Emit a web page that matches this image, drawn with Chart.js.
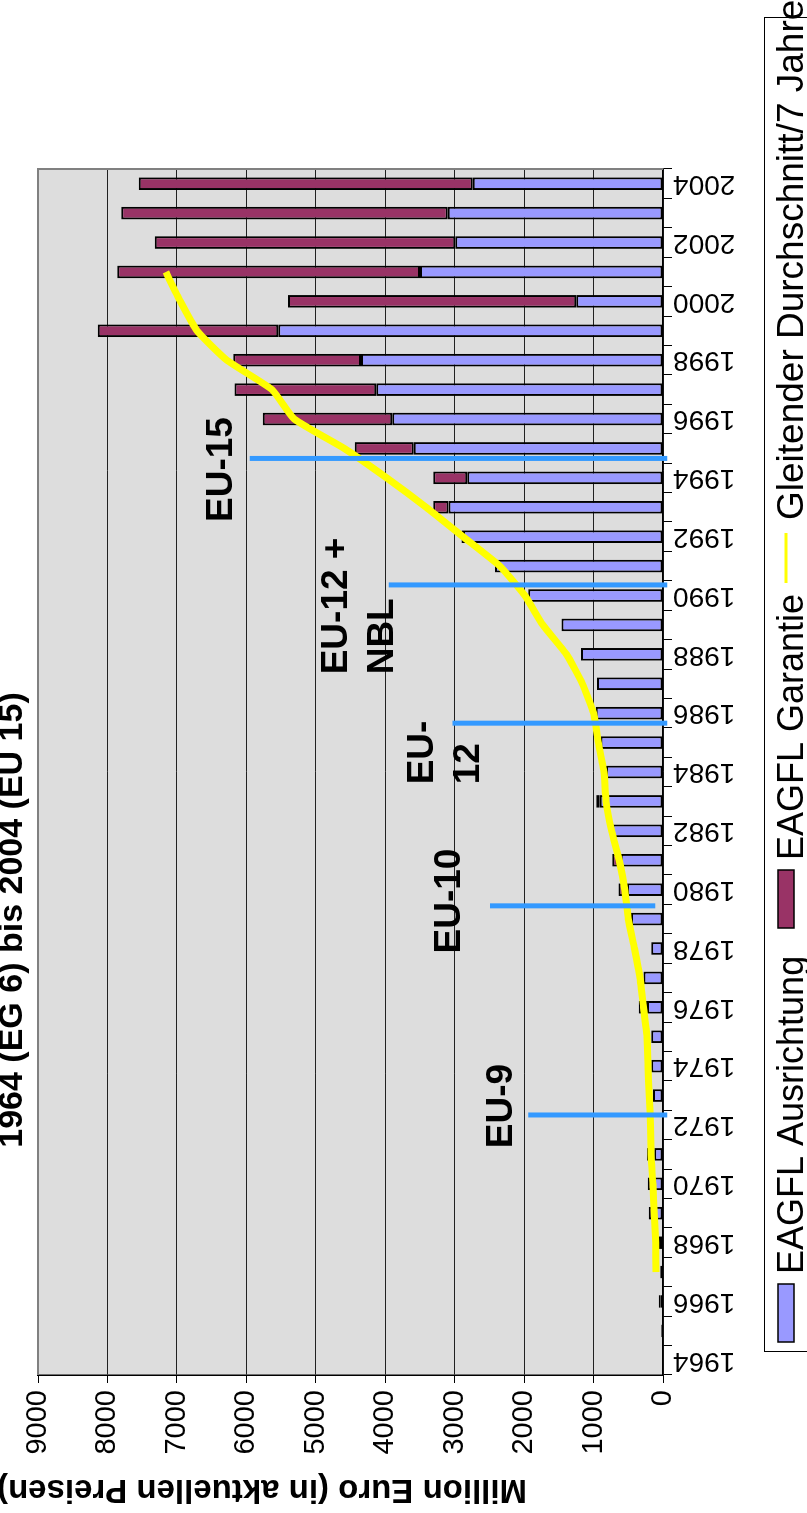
<!DOCTYPE html>
<html>
<head>
<meta charset="utf-8">
<script src="https://cdn.jsdelivr.net/npm/chart.js@4.4.1/dist/chart.umd.min.js"></script>
<style>
html, body { margin: 0; padding: 0; background: #fff; overflow: hidden; }
#wrap { position: absolute; left: 0; top: 0; width: 1513px; height: 807px; transform-origin: 0 0; transform: translateY(1513px) rotate(-90deg); }
</style>
</head>
<body>
<div id="wrap"><canvas id="chart" width="1513" height="807"></canvas></div>
<script>
const years = ['1964', '1965', '1966', '1967', '1968', '1969', '1970', '1971', '1972', '1973',
    '1974', '1975', '1976', '1977', '1978', '1979', '1980', '1981', '1982', '1983',
    '1984', '1985', '1986', '1987', '1988', '1989', '1990', '1991', '1992', '1993',
    '1994', '1995', '1996', '1997', '1998', '1999', '2000', '2001', '2002', '2003', '2004'];

// EAGFL Ausrichtung (blue, base of the stack)
const ausrichtung = [0, 0, 40, 0, 60, 135, 135, 125, 0, 145,
    170, 170, 230, 280, 170, 460, 520, 610, 730, 910,
    820, 900, 970, 950, 1180, 1460, 1940, 2420, 2880, 3090,
    2820, 3590, 3900, 4130, 4350, 5540, 1250, 3500, 2990, 3100, 2740];

// EAGFL Garantie (purple, stacked on top)
const garantie = [0, 25, 20, 40, 0, 70, 85, 105, 0, 0,
    0, 0, 120, 0, 0, 0, 120, 120, 0, 50,
    0, 0, 0, 0, 0, 0, 0, 0, 20, 220,
    490, 850, 1865, 2040, 1840, 2600, 4150, 4360, 4330, 4700, 4810];

// Gleitender Durchschnitt / 7 Jahre
const durchschnitt = [null, null, null, 100, 106, 126, 145, 174, 180, 198,
    217, 230, 280, 330, 410, 500, 550, 630, 740, 820,
    850, 930, 1000, 1160, 1390, 1730, 1990, 2350, 2880, 3410,
    3980, 4590, 5310, 5630, 6280, 6710, 6950, 7160, null, null, null];

const yMax = 9000;
const yStep = 1000;

const legendLabels = ['EAGFL Ausrichtung', 'EAGFL Garantie', 'Gleitender Durchschnitt/7 Jahre'];

// enlargement markers: category position, value range of the line, text
const markerPos = [8.34, 15.45, 21.66, 26.36, 30.66];
const markerFrom = [-60, 110, -60, -60, -60];
const markerTo = [1940, 2490, 3030, 3950, 5950];
const markerText = [['EU-9'], ['EU-10'], ['EU-', '12'], ['EU-12 +', 'NBL'], ['EU-15']];
const markerTextPos = [7.21, 13.83, 19.58, 23.32, 28.5];
const markerTextVal = [2180, 2930, 3315, 4555, 6200];

const FONT = '"Liberation Sans", Arial, Helvetica, sans-serif';
Chart.defaults.font.family = FONT;
Chart.defaults.color = '#000';

const BLUE = '#9999ff';
const PURPLE = '#993366';

const decor = {
    id: 'decor',
    beforeDraw(chart) {
        const { ctx, chartArea: a } = chart;
        ctx.save();
        ctx.fillStyle = '#fff';
        ctx.fillRect(0, 0, chart.width, chart.height);
        ctx.fillStyle = '#dddddd';
        ctx.fillRect(a.left, a.top, a.right - a.left, a.bottom - a.top);
        ctx.restore();
    },
    afterDatasetsDraw(chart) {
        const { ctx } = chart;
        const xs = chart.scales.x;
        const ys = chart.scales.y;
        ctx.save();
        ctx.strokeStyle = '#3399ff';
        ctx.lineWidth = 5;
        markerPos.forEach((p, i) => {
            const x = xs.getPixelForValue(p);
            ctx.beginPath();
            ctx.moveTo(x, ys.getPixelForValue(markerFrom[i]));
            ctx.lineTo(x, ys.getPixelForValue(markerTo[i]));
            ctx.stroke();
        });
        ctx.fillStyle = '#000';
        ctx.font = 'bold 37px ' + FONT;
        ctx.textBaseline = 'alphabetic';
        markerText.forEach((lines, i) => {
            const x = xs.getPixelForValue(markerTextPos[i]);
            const y = ys.getPixelForValue(markerTextVal[i]);
            lines.forEach((t, j) => ctx.fillText(t, x, y + j * 46));
        });
        ctx.restore();
    },
    afterDraw(chart) {
        const { ctx, chartArea: a } = chart;
        ctx.save();
        // plot frame (top and right)
        ctx.strokeStyle = '#808080';
        ctx.lineWidth = 2;
        ctx.beginPath();
        ctx.moveTo(a.left, a.top);
        ctx.lineTo(a.right, a.top);
        ctx.lineTo(a.right, a.bottom);
        ctx.stroke();

        // title (cut at the top edge, as in the source)
        ctx.fillStyle = '#000';
        ctx.font = 'bold 34px ' + FONT;
        ctx.textAlign = 'center';
        ctx.textBaseline = 'alphabetic';
        ctx.fillText('1964 (EG 6) bis 2004 (EU 15)', 593, 22);

        // value axis title
        ctx.save();
        ctx.translate(33, 262);
        ctx.rotate(-Math.PI / 2);
        ctx.font = 'bold 33px ' + FONT;
        ctx.fillText('Million Euro (in aktuellen Preisen)', 0, 0);
        ctx.restore();

        // legend
        ctx.lineWidth = 1;
        ctx.strokeStyle = '#000';
        ctx.strokeRect(161.5, 764.5, 1334, 80);
        ctx.font = '36px ' + FONT;
        ctx.textAlign = 'left';
        ctx.lineWidth = 1.5;
        ctx.fillStyle = BLUE;
        ctx.fillRect(171, 778, 58, 16);
        ctx.strokeRect(171, 778, 58, 16);
        ctx.fillStyle = '#000';
        ctx.fillText(legendLabels[0], 239, 803);
        ctx.fillStyle = PURPLE;
        ctx.fillRect(585, 778, 58, 16);
        ctx.strokeRect(585, 778, 58, 16);
        ctx.fillStyle = '#000';
        ctx.fillText(legendLabels[1], 653, 803);
        ctx.strokeStyle = '#ffff00';
        ctx.lineWidth = 3;
        ctx.beginPath();
        ctx.moveTo(930, 786);
        ctx.lineTo(980, 786);
        ctx.stroke();
        ctx.font = '37px ' + FONT;
        ctx.fillText(legendLabels[2], 993, 803);
        ctx.restore();
    }
};

new Chart(document.getElementById('chart').getContext('2d'), {
    type: 'bar',
    data: {
        labels: years,
        datasets: [{
            type: 'line',
            label: legendLabels[2],
            data: durchschnitt,
            borderColor: '#ffff00',
            borderWidth: 7,
            pointRadius: 0,
            tension: 0.15,
            stack: 'avg',
            order: 0
        }, {
            label: legendLabels[0],
            data: ausrichtung,
            backgroundColor: BLUE,
            borderColor: '#000',
            borderWidth: 2,
            borderSkipped: false,
            stack: 'eagfl',
            barPercentage: 0.43,
            categoryPercentage: 1,
            order: 1
        }, {
            label: legendLabels[1],
            data: garantie,
            backgroundColor: PURPLE,
            borderColor: '#000',
            borderWidth: 2,
            borderSkipped: false,
            stack: 'eagfl',
            barPercentage: 0.43,
            categoryPercentage: 1,
            order: 1
        }]
    },
    options: {
        responsive: false,
        devicePixelRatio: 1,
        animation: false,
        layout: { padding: { top: 38, right: 169, left: 0, bottom: 0 } },
        plugins: { legend: { display: false }, title: { display: false }, tooltip: { enabled: false } },
        scales: {
            x: {
                stacked: true,
                offset: true,
                grid: { offset: true, drawOnChartArea: false, drawTicks: true, tickLength: 9, tickColor: '#000' },
                border: { color: '#000', width: 1.5 },
                ticks: {
                    autoSkip: false,
                    minRotation: 90,
                    maxRotation: 90,
                    padding: 1,
                    font: { size: 28 },
                    callback: (v, i) => (i % 2 === 0 ? years[i] : '')
                },
                afterFit: (s) => { s.height = 144; }
            },
            y: {
                stacked: true,
                min: 0,
                max: yMax,
                ticks: { stepSize: yStep, padding: 7, font: { size: 29 }, callback: (v) => String(v) },
                grid: { color: 'rgba(0,0,0,0.85)', lineWidth: 1, tickLength: 8, tickColor: '#000' },
                border: { color: '#000', width: 1.5 },
                afterFit: (s) => { s.width = 138; }
            }
        }
    },
    plugins: [decor]
});
</script>
</body>
</html>
